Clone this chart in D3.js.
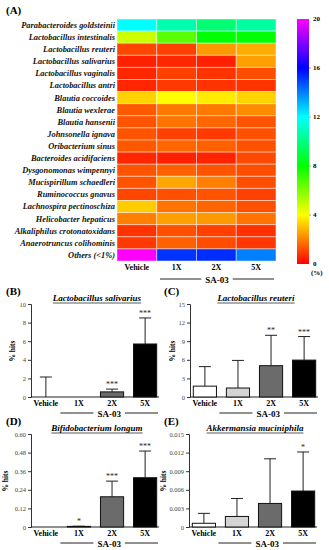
<!DOCTYPE html>
<html>
<head>
<meta charset="utf-8">
<script src="https://cdn.jsdelivr.net/npm/d3@7"></script>
<style>
  body { margin: 0; background: #fff; }
  svg { display: block; font-family: "Liberation Serif", "Times New Roman", serif; }
</style>
</head>
<body>
<svg id="chart" width="329" height="550"></svg>
<script>
// ---- data ----
const species = [
  'Parabacteroides goldsteinii', 'Lactobacillus intestinalis', 'Lactobacillus reuteri',
  'Lactobacillus salivarius', 'Lactobacillus vaginalis', 'Lactobacillus antri',
  'Blautia coccoides', 'Blautia wexlerae', 'Blautia hansenii', 'Johnsonella ignava',
  'Oribacterium sinus', 'Bacteroides acidifaciens', 'Dysgonomonas wimpennyi',
  'Mucispirillum schaedleri', 'Ruminococcus gnavus', 'Lachnospira pectinoschiza',
  'Helicobacter hepaticus', 'Alkaliphilus crotonatoxidans', 'Anaerotruncus colihominis',
  'Others (<1%)'
];
const groups = ['Vehicle', '1X', '2X', '5X'];

// relative abundance (%) per column, same order as species
const heatVehicle = [12.0, 4.8, 1.1, 0.5, 0.6, 0.6, 3.3, 1.4, 1.3, 1.3, 1.4, 0.6, 1.3, 1.3, 1.1, 3.2, 2.0, 0.8, 0.9, 20];
const heat1X      = [10.7, 6.6, 1.0, 0.6, 1.0, 0.9, 4.0, 1.9, 1.8, 1.0, 1.6, 0.5, 1.5, 2.6, 1.25, 1.8, 2.5, 1.25, 1.5, 15.2];
const heat2X      = [9.8, 8.0, 2.4, 0.5, 0.8, 0.8, 3.7, 1.9, 1.6, 0.9, 1.5, 0.55, 1.3, 2.0, 1.3, 1.6, 2.4, 1.0, 1.2, 15.3];
const heat5X      = [10.5, 8.0, 2.7, 2.5, 1.2, 0.8, 3.3, 2.2, 1.3, 1.25, 1.25, 1.15, 1.2, 1.2, 1.0, 1.25, 1.8, 0.75, 0.85, 14.0];
const colorTicks = [0, 4, 8, 12, 16, 20];

// bar panels: mean and top of error bar (% hits)
const salivariusMean = [0, 0, 0.55, 5.7];
const salivariusUpper = [2.15, 0, 0.85, 8.5];
const salivariusStars = ['', '', '***', '***'];
const salivariusTicks = [0, 2, 4, 6, 8, 10];

const reuteriMean = [1.75, 1.45, 5.05, 5.95];
const reuteriUpper = [4.9, 5.9, 9.95, 9.75];
const reuteriStars = ['', '', '**', '***'];
const reuteriTicks = [0, 3, 6, 9, 12, 15];

const longumMean = [0, 0.004, 0.195, 0.318];
const longumUpper = [0, 0.005, 0.296, 0.49];
const longumStars = ['', '*', '***', '***'];
const longumTicks = [0, 0.12, 0.24, 0.36, 0.48, 0.60];

const akkermansiaMean = [0.0006, 0.0017, 0.0038, 0.0058];
const akkermansiaUpper = [0.0022, 0.0046, 0.011, 0.0121];
const akkermansiaStars = ['', '', '', '*'];
const akkermansiaTicks = [0, 0.003, 0.006, 0.009, 0.012, 0.015];

const barFills = ['#ffffff', '#d4d4d4', '#6b6b6b', '#000000'];

const svg = d3.select('#chart');

// ---- panel A: heatmap ----
const heat = [heatVehicle, heat1X, heat2X, heat5X];
const hx = d3.scaleBand().domain(groups).range([117, 276]);
const hy = d3.scaleBand().domain(species).range([19, 261]);
const hue = d3.scaleLinear().domain([0, 20]).range([0, 300]);
const color = v => d3.hsl(hue(v), 1, 0.5).formatHex();

svg.append('text').attr('x', 6).attr('y', 14)
  .attr('font-size', 11).attr('font-weight', 'bold').text('(A)');

const cells = [];
groups.forEach((g, j) => species.forEach((s, i) => cells.push({ g, s, v: heat[j][i] })));
svg.append('g').selectAll('rect').data(cells).join('rect')
  .attr('x', d => hx(d.g)).attr('y', d => hy(d.s))
  .attr('width', hx.bandwidth()).attr('height', hy.bandwidth())
  .attr('fill', d => color(d.v))
  .attr('stroke', 'rgba(255,255,255,0.45)').attr('stroke-width', 1);

svg.append('g').selectAll('text').data(species).join('text')
  .attr('x', 115).attr('y', d => hy(d) + hy.bandwidth() / 2)
  .attr('dy', '0.35em').attr('text-anchor', 'end')
  .attr('font-size', 8.4).attr('font-weight', 'bold').attr('font-style', 'italic')
  .attr('fill', '#111').text(d => d);

svg.append('g').selectAll('text').data(groups).join('text')
  .attr('x', d => hx(d) + hx.bandwidth() / 2).attr('y', 270)
  .attr('text-anchor', 'middle').attr('font-size', 8).attr('font-weight', 'bold')
  .text(d => d);

function bracket(x0, x1, y) {
  const mid = (x0 + x1) / 2;
  const t = svg.append('text').attr('x', mid).attr('y', y + 3.5)
    .attr('text-anchor', 'middle').attr('font-size', 9).attr('font-weight', 'bold').text('SA-03');
  const w = t.node().getComputedTextLength() / 2 + 4;
  svg.append('line').attr('x1', x0).attr('x2', mid - w).attr('y1', y).attr('y2', y)
    .attr('stroke', '#222').attr('stroke-width', 1);
  svg.append('line').attr('x1', mid + w).attr('x2', x1).attr('y1', y).attr('y2', y)
    .attr('stroke', '#222').attr('stroke-width', 1);
}
bracket(160, 274, 279);

// colour bar
const cy = d3.scaleLinear().domain([0, 20]).range([264, 19]);
const grad = svg.append('defs').append('linearGradient').attr('id', 'cbar')
  .attr('x1', 0).attr('y1', 1).attr('x2', 0).attr('y2', 0);
d3.range(0, 21, 1).forEach(v => grad.append('stop')
  .attr('offset', v / 20).attr('stop-color', color(v)));
svg.append('rect').attr('x', 297).attr('y', cy(20)).attr('width', 12)
  .attr('height', cy(0) - cy(20)).attr('fill', 'url(#cbar)');
svg.append('g').selectAll('text').data(colorTicks).join('text')
  .attr('x', 313).attr('y', d => cy(d)).attr('dy', '0.3em')
  .attr('font-size', 7).attr('font-weight', 'bold').text(d => d);
svg.append('g').selectAll('line').data(colorTicks.slice(1, -1)).join('line')
  .attr('x1', 309).attr('x2', 311).attr('y1', d => cy(d)).attr('y2', d => cy(d))
  .attr('stroke', '#555').attr('stroke-width', 0.6);
svg.append('text').attr('x', 311).attr('y', 275).attr('font-size', 7)
  .attr('font-weight', 'bold').text('(%)');

// ---- panels B-E: bar charts ----
function panel(p) {
  const y = d3.scaleLinear().domain([0, p.ticks[p.ticks.length - 1]]).range([p.y0, p.y0 - 93]);
  const x = d3.scaleBand().domain(groups).range([p.ax, p.ax + 129]).paddingInner(0.3).paddingOuter(0.1);
  const g = svg.append('g');

  svg.append('text').attr('x', p.lx).attr('y', p.y0 - 102)
    .attr('font-size', 11).attr('font-weight', 'bold').text(p.letter);

  const t = g.append('text').attr('x', p.ax + 66).attr('y', p.y0 - 96)
    .attr('text-anchor', 'middle').attr('font-size', 9).attr('font-weight', 'bold')
    .attr('font-style', 'italic').text(p.title);
  const tw = t.node().getComputedTextLength();
  g.append('line').attr('x1', p.ax + 66 - tw / 2).attr('x2', p.ax + 66 + tw / 2)
    .attr('y1', p.y0 - 94).attr('y2', p.y0 - 94).attr('stroke', '#111').attr('stroke-width', 0.7);

  const yAxis = g.append('g').attr('transform', `translate(${p.ax},0)`)
    .call(d3.axisLeft(y).tickValues(p.ticks).tickSize(3).tickPadding(2).tickFormat(p.fmt));
  yAxis.select('.domain').attr('stroke', '#333');
  yAxis.selectAll('line').attr('stroke', '#333');
  yAxis.selectAll('text').attr('font-size', 6.5).attr('fill', '#444')
    .attr('font-family', '"Liberation Serif", serif');

  g.append('line').attr('x1', p.ax).attr('x2', p.ax + 128)
    .attr('y1', p.y0).attr('y2', p.y0).attr('stroke', '#222').attr('stroke-width', 1.2);

  g.append('text').attr('transform', `translate(${p.yl},${p.y0 - 46}) rotate(-90)`)
    .attr('text-anchor', 'middle').attr('font-size', 7.5).attr('font-weight', 'bold').text('% hits');

  const bw = x.bandwidth();
  const cap = 6;
  groups.forEach((grp, i) => {
    const cx = x(grp) + bw / 2;
    if (p.upper[i] > p.mean[i]) {
      g.append('line').attr('x1', cx).attr('x2', cx)
        .attr('y1', y(p.mean[i])).attr('y2', y(p.upper[i]))
        .attr('stroke', '#222').attr('stroke-width', 1);
      g.append('line').attr('x1', cx - cap).attr('x2', cx + cap)
        .attr('y1', y(p.upper[i])).attr('y2', y(p.upper[i]))
        .attr('stroke', '#222').attr('stroke-width', 1);
    }
    if (p.mean[i] > 0) {
      g.append('rect').attr('x', x(grp)).attr('y', y(p.mean[i]))
        .attr('width', bw).attr('height', y(0) - y(p.mean[i]))
        .attr('fill', barFills[i]).attr('stroke', '#111').attr('stroke-width', 1);
    }
    if (p.stars[i]) {
      g.append('text').attr('x', cx).attr('y', y(p.upper[i]) - 2)
        .attr('text-anchor', 'middle').attr('font-size', 8).attr('fill', '#222').text(p.stars[i]);
    }
  });

  g.append('g').selectAll('text').data(groups).join('text')
    .attr('x', d => x(d) + bw / 2).attr('y', p.y0 + 9)
    .attr('text-anchor', 'middle').attr('font-size', 8).attr('font-weight', 'bold')
    .text(d => d);

  bracket(x('1X') - 7, p.ax + 127, p.y0 + 16);
}

const plain = d => d3.format('~g')(d);
panel({ letter: '(B)', lx: 6, ax: 31, y0: 397, yl: 15, title: 'Lactobacillus salivarius',
  mean: salivariusMean, upper: salivariusUpper, stars: salivariusStars, ticks: salivariusTicks, fmt: plain });
panel({ letter: '(C)', lx: 164, ax: 190, y0: 397, yl: 175, title: 'Lactobacillus reuteri',
  mean: reuteriMean, upper: reuteriUpper, stars: reuteriStars, ticks: reuteriTicks, fmt: plain });
panel({ letter: '(D)', lx: 6, ax: 31, y0: 527, yl: 8, title: 'Bifidobacterium longum',
  mean: longumMean, upper: longumUpper, stars: longumStars, ticks: longumTicks,
  fmt: d => d === 0 ? '0' : d3.format('.2f')(d) });
panel({ letter: '(E)', lx: 164, ax: 189, y0: 527, yl: 166, title: 'Akkermansia muciniphila',
  mean: akkermansiaMean, upper: akkermansiaUpper, stars: akkermansiaStars, ticks: akkermansiaTicks,
  fmt: d => d === 0 ? '0' : d3.format('.3f')(d) });
</script>
</body>
</html>
